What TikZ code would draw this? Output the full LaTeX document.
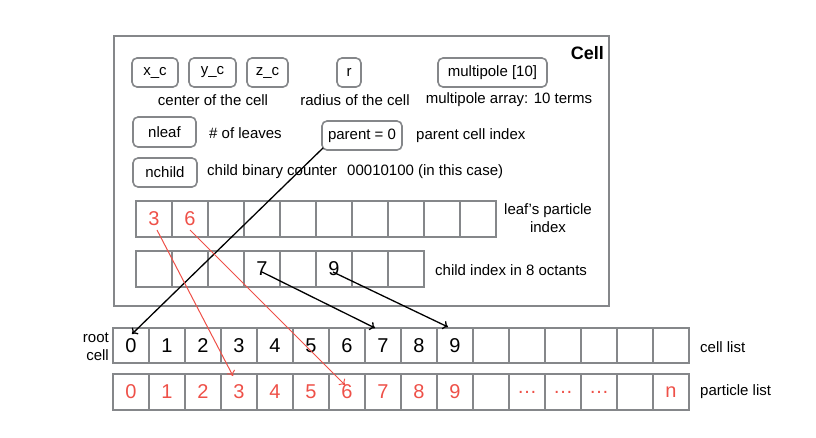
\documentclass[tikz,border=0pt]{standalone}
\usepackage{fontspec}
\setmainfont{Liberation Sans}
\usepackage{xcolor}
\usetikzlibrary{arrows.meta, calc, positioning}
\definecolor{boxgray}{HTML}{85878A}
\definecolor{listred}{HTML}{EE5048}
\tikzset{
    cellbox/.style={draw=boxgray, line width=1.6pt, minimum width=36pt, minimum height=36pt, inner sep=0pt, outer sep=0pt, font=\fontsize{20}{22}\selectfont},
    field/.style={draw=boxgray, line width=1.6pt, rounded corners=5pt, minimum height=29pt, inner sep=0pt, font=\fontsize{15}{17}\selectfont},
    note/.style={inner sep=0pt, font=\fontsize{15}{18}\selectfont},
    ptr/.style={black, line width=1.3pt, -{To[length=5pt, width=9pt]}},
    redptr/.style={listred, line width=1pt, -{To[length=5pt, width=9pt]}}
}

\begin{document}
\begin{tikzpicture}[x=1pt, y=-1pt]
    \useasboundingbox (0,0) rectangle (816,437);

    % the cell structure
    \node[draw=boxgray, line width=1.6pt, minimum width=495pt, minimum height=270pt, inner sep=0pt] (cell) at (361.5,171) {};
    \node[inner sep=0pt, anchor=east, font=\fontsize{18}{20}\selectfont\bfseries] (title) at (604,53) {Cell};

    \node[field, minimum width=46pt] (xc) at (155,72.5) {x\_c};
    \node[field, minimum width=47pt] (yc) at (212.5,72.5) {y\_c};
    \node[field, minimum width=41pt] (zc) at (267.5,72.5) {z\_c};
    \node[field, minimum width=24pt] (r) at (349,72.5) {r};
    \node[field, minimum width=109pt] (mp) at (492.5,72.5) {multipole [10]};
    \node[note] (centerlbl) at (213,100) {center of the cell};
    \node[note] (radiuslbl) at (355,100) {radius of the cell};
    \node[note] (mplbl) at (509,100) {multipole array: 10 terms};

    \node[field, minimum width=63pt, minimum height=30pt] (nleaf) at (164.5,132) {nleaf};
    \node[note, anchor=west] (nleaflbl) at (209,133) {\# of leaves};
    \node[field, minimum width=80pt] (parent) at (362,135.5) {parent = 0};
    \node[note, anchor=west] (parentlbl) at (416,136) {parent cell index};
    \node[field, minimum width=64pt] (nchild) at (165,172.5) {nchild};
    \node[note, anchor=west] (nchildlbl) at (207,172) {child binary counter\hspace{10pt}00010100 (in this case)};

    % leaf and child rows
    \foreach \t [count=\i from 0] in {3,6,{},{},{},{},{},{},{},{}}
        \node[cellbox, text=listred] (lf\i) at (154+36*\i,219) {\t};
    \node[note, align=center] (leaflbl) at (548,218) {leaf’s particle\\index};
    \foreach \t [count=\i from 0] in {{},{},{},7,{},9,{},{}}
        \node[cellbox] (ch\i) at (154+36*\i,269) {\t};
    \node[note, anchor=west] (childlbl) at (435,270) {child index in 8 octants};

    % global lists
    \foreach \t [count=\i from 0] in {0,1,2,3,4,5,6,7,8,9,{},{},{},{},{},{}}
        \node[cellbox, minimum height=35pt] (c\i) at (131+36*\i,345.5) {\t};
    \foreach \t [count=\i from 0] in {0,1,2,3,4,5,6,7,8,9,{},{\ldots},{\ldots},{\ldots},{},n}
        \node[cellbox, text=listred] (p\i) at (131+36*\i,392) {\t};
    \node[note, align=right, anchor=east] (rootlbl) at (109,347) {root\\cell};
    \node[note, anchor=west] (celllbl) at (700,347) {cell list};
    \node[note, anchor=west] (partlbl) at (700,392) {particle list};

    % pointers
    \draw[ptr] ($(parent.south west)+(2,-3)$) -- ($(c0.north)+(1,6)$);
    \draw[ptr] ($(ch3.center)+(0,3)$) -- ($(c7.north)+(-8,0)$);
    \draw[ptr] ($(ch5.center)+(-1,3)$) -- ($(c9.north)+(-7,-1)$);
    \draw[redptr] ($(lf0.center)+(3,11)$) -- ($(p3.north)+(-6,2)$);
    \draw[redptr] ($(lf1.center)+(0,11)$) -- ($(p6.north)+(-2,11)$);
\end{tikzpicture}
\end{document}
